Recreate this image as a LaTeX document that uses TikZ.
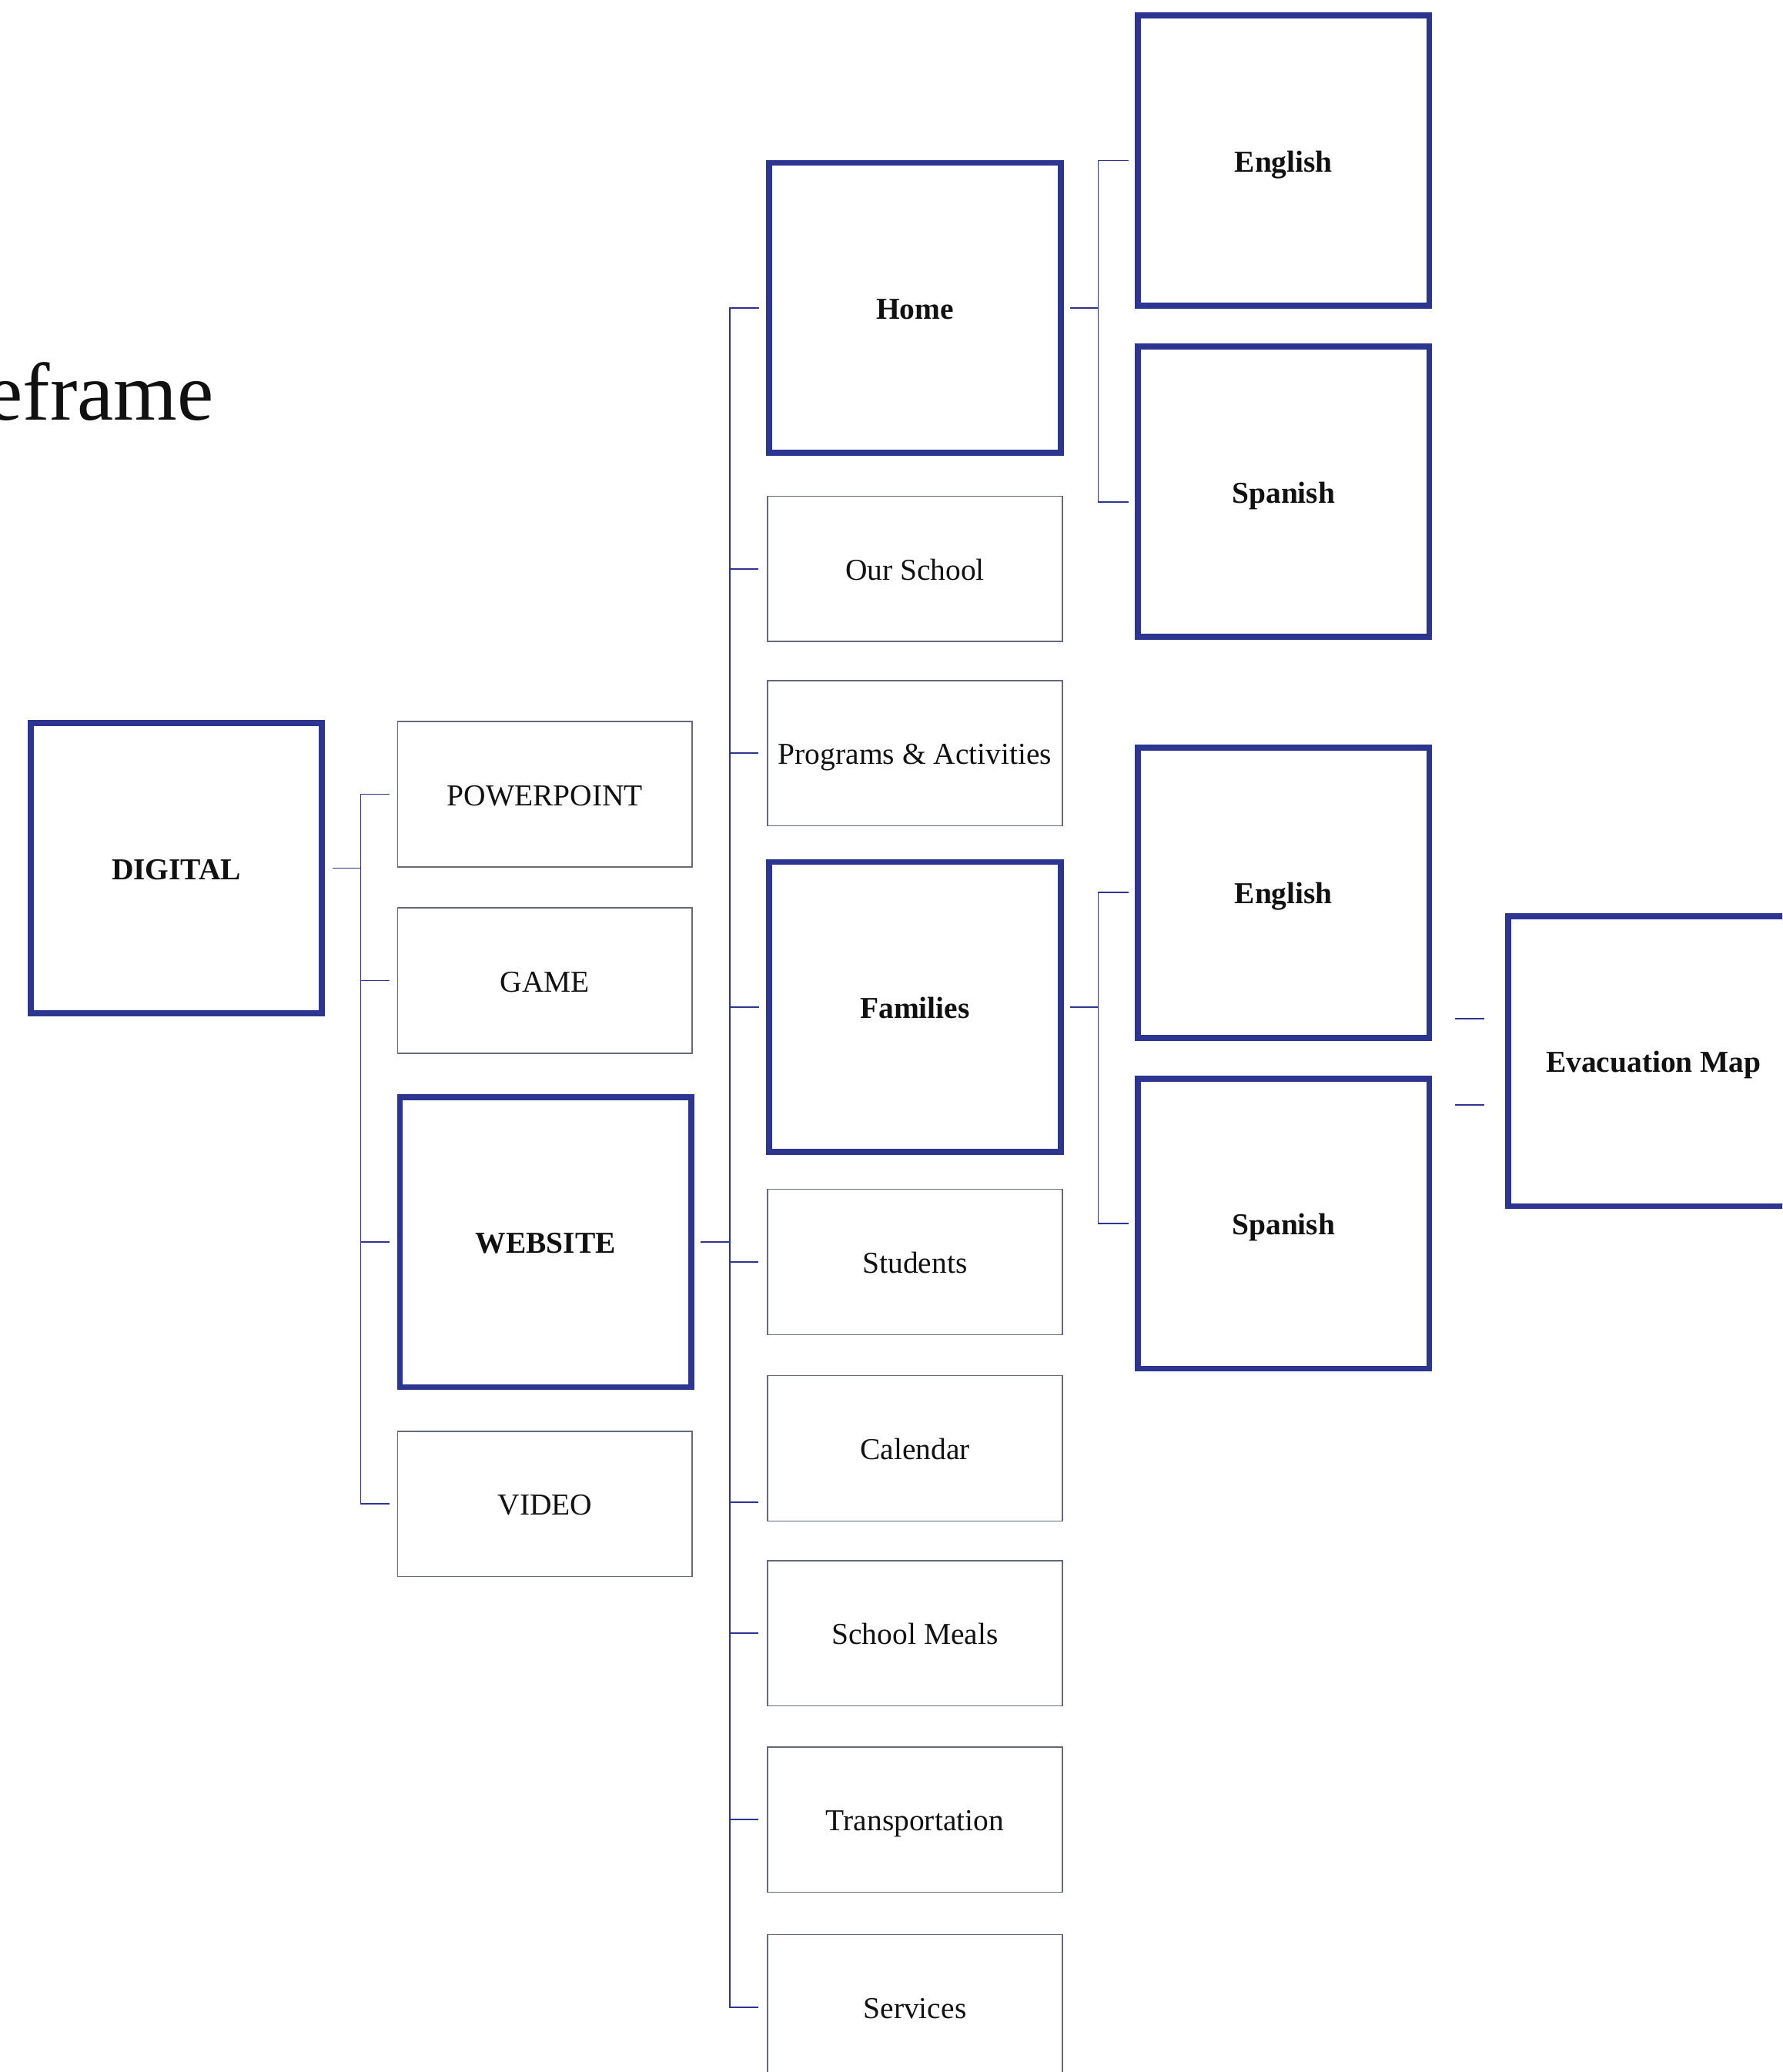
\documentclass[tikz,border=0pt]{standalone}
\usepackage{fontspec}
\setmainfont{Liberation Serif}
\usetikzlibrary{calc}
\definecolor{navy}{HTML}{2C3590}
\definecolor{boxgrey}{HTML}{646A7A}
\definecolor{ink}{HTML}{111111}
\begin{document}
\begin{tikzpicture}[x=1pt,y=-1pt,
  bigbox/.style={draw=navy, line width=4.5pt, minimum width=220.5pt, minimum height=219.5pt,
    inner sep=0pt, outer sep=0pt, text height=17pt, text depth=0pt,
    font=\fontsize{23}{27}\selectfont\bfseries, text=ink},
  smallbox/.style={draw=boxgrey, line width=1pt, minimum width=223pt, minimum height=110pt,
    inner sep=0pt, outer sep=0pt, text height=17pt, text depth=0pt,
    font=\fontsize{23}{27}\selectfont, text=ink},
  conn/.style={draw=navy, line width=1pt},
  titletext/.style={anchor=base east, inner sep=0pt, font=\fontsize{62}{70}\selectfont, text=ink}]
\useasboundingbox (0,0) rectangle (1349,1568);
\clip (0,0) rectangle (1349,1568);

\node[titletext] (title) at (162,318) {eframe};

% column 1
\node[bigbox] (digital) at (133.5,657) {DIGITAL};
% column 2
\node[smallbox] (ppt) at (412.5,601) {POWERPOINT};
\node[smallbox] (game) at (412.5,742) {GAME};
\node[bigbox] (website) at (413,940) {WEBSITE};
\node[smallbox] (video) at (412.5,1138) {VIDEO};
% column 3
\node[bigbox] (home) at (692.5,233) {Home};
\node[smallbox] (school) at (692.5,430.5) {Our School};
\node[smallbox] (programs) at (692.5,570) {Programs \& Activities};
\node[bigbox] (families) at (692.5,762) {Families};
\node[smallbox] (students) at (692.5,955) {Students};
\node[smallbox] (calendar) at (692.5,1096) {Calendar};
\node[smallbox] (meals) at (692.5,1236) {School Meals};
\node[smallbox] (transport) at (692.5,1377) {Transportation};
\node[smallbox] (services) at (692.5,1519) {Services};
% column 4
\node[bigbox] (english1) at (971.5,121.5) {English};
\node[bigbox] (spanish1) at (971.5,372) {Spanish};
\node[bigbox] (english2) at (971.5,675.5) {English};
\node[bigbox] (spanish2) at (971.5,926) {Spanish};
% column 5
\node[bigbox] (evac) at (1251.5,803) {Evacuation Map};

% bus coordinates
\coordinate (busA) at (273,0);
\coordinate (busB) at (552,0);
\coordinate (busC) at (831,0);

% DIGITAL tree
\draw[conn] ([xshift=8pt]digital.east) -- (busA |- digital.east);
\draw[conn] ([xshift=-6pt]ppt.west) -- ++(-22,0) |- ([xshift=-6pt]video.west);
\draw[conn] (busA |- game.west) -- ([xshift=-6pt]game.west);
\draw[conn] (busA |- website.west) -- ([xshift=-8pt]website.west);

% WEBSITE tree
\draw[conn] ([xshift=7pt]website.east) -- (busB |- website.east);
\draw[conn] ([xshift=-8pt]home.west) -- ++(-22,0) |- ([xshift=-7pt]services.west);
\draw[conn] (busB |- school.west) -- ([xshift=-7pt]school.west);
\draw[conn] (busB |- programs.west) -- ([xshift=-7pt]programs.west);
\draw[conn] (busB |- families.west) -- ([xshift=-8pt]families.west);
\draw[conn] (busB |- students.west) -- ([xshift=-7pt]students.west);
\draw[conn] ([xshift=-7pt,yshift=-41pt]calendar.west) -- ++(-22,0);
\draw[conn] (busB |- meals.west) -- ([xshift=-7pt]meals.west);
\draw[conn] (busB |- transport.west) -- ([xshift=-7pt]transport.west);

% Home tree
\draw[conn] ([xshift=7pt]home.east) -- (busC |- home.east);
\draw[conn] ([xshift=-7pt]english1.west) -- ++(-23,0) |- ([xshift=-7pt,yshift=-8pt]spanish1.west);

% Families tree
\draw[conn] ([xshift=7pt]families.east) -- (busC |- families.east);
\draw[conn] ([xshift=-7pt]english2.west) -- ++(-23,0) |- ([xshift=-7pt]spanish2.west);

% Evacuation Map stubs
\draw[conn] ([xshift=-18pt,yshift=32pt]evac.west) -- ++(-22,0);
\draw[conn] ([xshift=-18pt,yshift=-33pt]evac.west) -- ++(-22,0);
\end{tikzpicture}
\end{document}
